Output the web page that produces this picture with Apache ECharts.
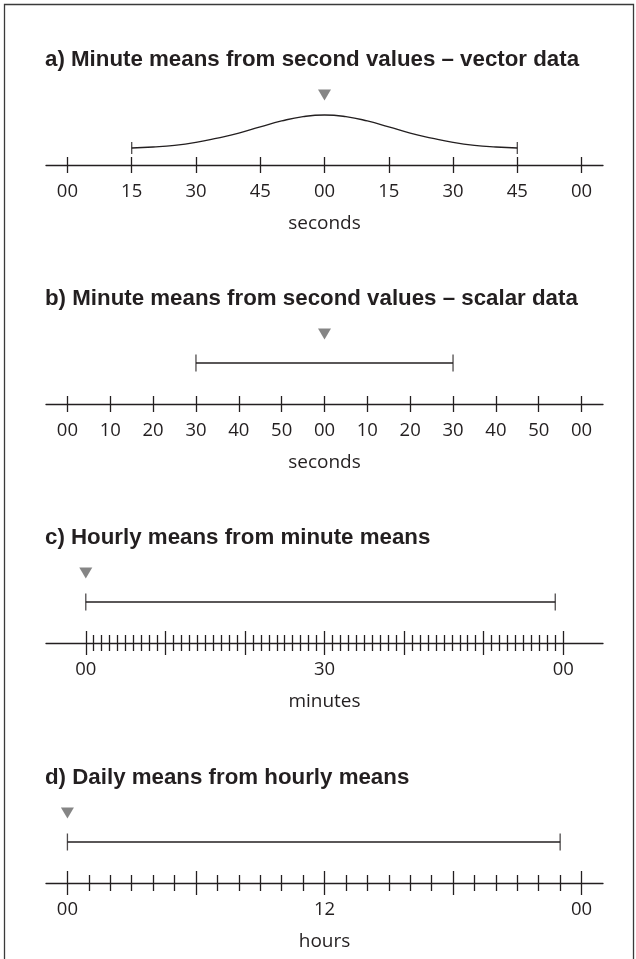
<!DOCTYPE html>
<html>
<head>
<meta charset="utf-8">
<script src="https://cdn.jsdelivr.net/npm/echarts@6/dist/echarts.min.js"></script>
<style>
html,body{margin:0;padding:0;background:#fff;}
#chart{width:636px;height:959px;}
</style>
</head>
<body>
<div id="chart"></div>
<script>
// ================= DATA =================
const panelTitles = [
  'a) Minute means from second values \u2013 vector data',
  'b) Minute means from second values \u2013 scalar data',
  'c) Hourly means from minute means',
  'd) Daily means from hourly means'
];
const axisNames = ['seconds', 'seconds', 'minutes', 'hours'];

// a) vector data: seconds over a two-minute span
const ticksA  = [0, 15, 30, 45, 60, 75, 90, 105, 120];
const labelsA = ['00', '15', '30', '45', '00', '15', '30', '45', '00'];
const vectorSeconds = [15, 20, 25, 30, 35, 40, 45, 50, 55, 60, 65, 70, 75, 80, 85, 90, 95, 100, 105];
const vectorWeights = [0, 0.03, 0.08, 0.17, 0.30, 0.45, 0.64, 0.82, 0.95, 1.0, 0.95, 0.82, 0.64, 0.45, 0.30, 0.17, 0.08, 0.03, 0];
const markerA = 60;

// b) scalar data
const ticksB  = [0, 10, 20, 30, 40, 50, 60, 70, 80, 90, 100, 110, 120];
const labelsB = ['00', '10', '20', '30', '40', '50', '00', '10', '20', '30', '40', '50', '00'];
const scalarWindow = [30, 90];
const markerB = 60;

// c) hourly means from minute means
const minuteTicks = [1, 2, 3, 4, 5, 6, 7, 8, 9, 11, 12, 13, 14, 15, 16, 17, 18, 19,
  21, 22, 23, 24, 25, 26, 27, 28, 29, 31, 32, 33, 34, 35, 36, 37, 38, 39,
  41, 42, 43, 44, 45, 46, 47, 48, 49, 51, 52, 53, 54, 55, 56, 57, 58, 59];
const minuteMajorTicks = [0, 10, 20, 30, 40, 50, 60];
const ticksC  = [0, 30, 60];
const labelsC = ['00', '30', '00'];
const hourlyWindow = [0, 59];
const markerC = 0;

// d) daily means from hourly means
const hourTicks = [1, 2, 3, 4, 5, 7, 8, 9, 10, 11, 13, 14, 15, 16, 17, 19, 20, 21, 22, 23];
const hourMajorTicks = [0, 6, 12, 18, 24];
const ticksD  = [0, 12, 24];
const labelsD = ['00', '12', '00'];
const dailyWindow = [0, 23];
const markerD = 0;

// ================= LAYOUT / STYLE =================
const INK = '#231f20';
const MARK = '#666666';
const LABEL_FONT = 'Open Sans';
const TITLE_FONT = 'Liberation Sans';
const AXIS_Y = [165, 404, 643, 883];
const GRID_H = 90;
const X_RANGE = [[-5, 125], [-5, 125], [-5, 65], [-1, 25]];
const BAR_LEVEL = 41;     // height (px units) of the averaging window bar
const TRI_LEVEL = 70;     // height of the marker triangle
const A_MIN = -17 / 33, A_MAX = A_MIN + GRID_H / 33; // panel a weight scale
const A_TRI = (TRI_LEVEL - 17) / 33;

const grids = AXIS_Y.map(y => ({ left: 46, right: 33, top: y - GRID_H, height: GRID_H }));

const xAxes = [];
function baseAxis(g) {
  return {
    type: 'value', gridIndex: g, min: X_RANGE[g][0], max: X_RANGE[g][1],
    position: 'bottom', offset: 0,
    axisLine: { show: false, onZero: false },
    axisTick: { show: false }, axisLabel: { show: false },
    splitLine: { show: false }
  };
}
function addLineAxis(g, vals, texts) {
  const ax = baseAxis(g);
  ax.axisLine = { show: true, onZero: false, lineStyle: { color: INK, width: 1.3 } };
  ax.axisLabel = {
    show: true, customValues: vals,
    formatter: v => texts[vals.indexOf(v)],
    margin: 17, color: INK, fontFamily: LABEL_FONT, fontSize: 18.5
  };
  ax.name = axisNames[g];
  ax.nameLocation = 'middle';
  ax.nameGap = 49;
  ax.nameTextStyle = { color: INK, fontFamily: LABEL_FONT, fontSize: 19 };
  xAxes.push(ax);
  return xAxes.length - 1;
}
function addTickAxis(g, vals, len, inside) {
  const ax = baseAxis(g);
  ax.axisTick = { show: true, customValues: vals, length: len, inside: inside,
    lineStyle: { color: INK, width: 1.3 } };
  xAxes.push(ax);
  return xAxes.length - 1;
}

// panel a
const xa = addLineAxis(0, ticksA, labelsA);
addTickAxis(0, ticksA, 8, false); addTickAxis(0, ticksA, 8, true);
// panel b
const xb = addLineAxis(1, ticksB, labelsB);
addTickAxis(1, ticksB, 8, false); addTickAxis(1, ticksB, 8, true);
// panel c
const xc = addLineAxis(2, ticksC, labelsC);
addTickAxis(2, minuteTicks, 8, false); addTickAxis(2, minuteTicks, 8, true);
addTickAxis(2, minuteMajorTicks, 12, false); addTickAxis(2, minuteMajorTicks, 12, true);
// panel d
const xd = addLineAxis(3, ticksD, labelsD);
addTickAxis(3, hourTicks, 8, false); addTickAxis(3, hourTicks, 8, true);
addTickAxis(3, hourMajorTicks, 12, false); addTickAxis(3, hourMajorTicks, 12, true);

const yAxes = [
  { type: 'value', gridIndex: 0, min: A_MIN, max: A_MAX, show: false },
  { type: 'value', gridIndex: 1, min: 0, max: GRID_H, show: false },
  { type: 'value', gridIndex: 2, min: 0, max: GRID_H, show: false },
  { type: 'value', gridIndex: 3, min: 0, max: GRID_H, show: false }
];

function capSeries(xi, yi, pts, size) {
  return { type: 'scatter', xAxisIndex: xi, yAxisIndex: yi, data: pts,
    symbol: 'rect', symbolSize: [1.3, size], itemStyle: { color: INK }, z: 3, silent: true };
}
function triSeries(xi, yi, pt) {
  return { type: 'scatter', xAxisIndex: xi, yAxisIndex: yi, data: [pt],
    symbol: 'triangle', symbolRotate: 180, symbolSize: [13, 11],
    itemStyle: { color: MARK }, z: 4, silent: true };
}
function barSeries(xi, yi, win) {
  return { type: 'line', xAxisIndex: xi, yAxisIndex: yi,
    data: [[win[0], BAR_LEVEL], [win[1], BAR_LEVEL]],
    symbol: 'none', lineStyle: { color: INK, width: 1.3 }, z: 3, silent: true };
}

const series = [
  // a
  { type: 'line', xAxisIndex: xa, yAxisIndex: 0,
    data: vectorSeconds.map((s, i) => [s, vectorWeights[i]]),
    smooth: 0.5, symbol: 'none', lineStyle: { color: INK, width: 1.3 }, z: 3, silent: true },
  capSeries(xa, 0, [[vectorSeconds[0], vectorWeights[0]],
    [vectorSeconds[vectorSeconds.length - 1], vectorWeights[vectorWeights.length - 1]]], 12),
  triSeries(xa, 0, [markerA, A_TRI]),
  // b
  barSeries(xb, 1, scalarWindow),
  capSeries(xb, 1, scalarWindow.map(v => [v, BAR_LEVEL]), 17),
  triSeries(xb, 1, [markerB, TRI_LEVEL]),
  // c
  barSeries(xc, 2, hourlyWindow),
  capSeries(xc, 2, hourlyWindow.map(v => [v, BAR_LEVEL]), 17),
  triSeries(xc, 2, [markerC, TRI_LEVEL]),
  // d
  barSeries(xd, 3, dailyWindow),
  capSeries(xd, 3, dailyWindow.map(v => [v, BAR_LEVEL]), 17),
  triSeries(xd, 3, [markerD, TRI_LEVEL])
];

const titles = panelTitles.map((t, i) => ({
  text: t, left: 45, top: AXIS_Y[i] - 116, padding: 0,
  textStyle: { fontFamily: TITLE_FONT, fontWeight: 'bold', fontSize: 22.3, color: INK }
}));

const chart = echarts.init(document.getElementById('chart'), null, { renderer: 'canvas' });
chart.setOption({
  animation: false,
  backgroundColor: '#ffffff',
  title: titles,
  grid: grids,
  xAxis: xAxes,
  yAxis: yAxes,
  series: series,
  graphic: [{
    type: 'rect', silent: true,
    shape: { x: 4.5, y: 4.5, width: 629, height: 1000 },
    style: { fill: 'none', stroke: '#3a3a3a', lineWidth: 1.3 }
  }]
});
</script>
</body>
</html>
